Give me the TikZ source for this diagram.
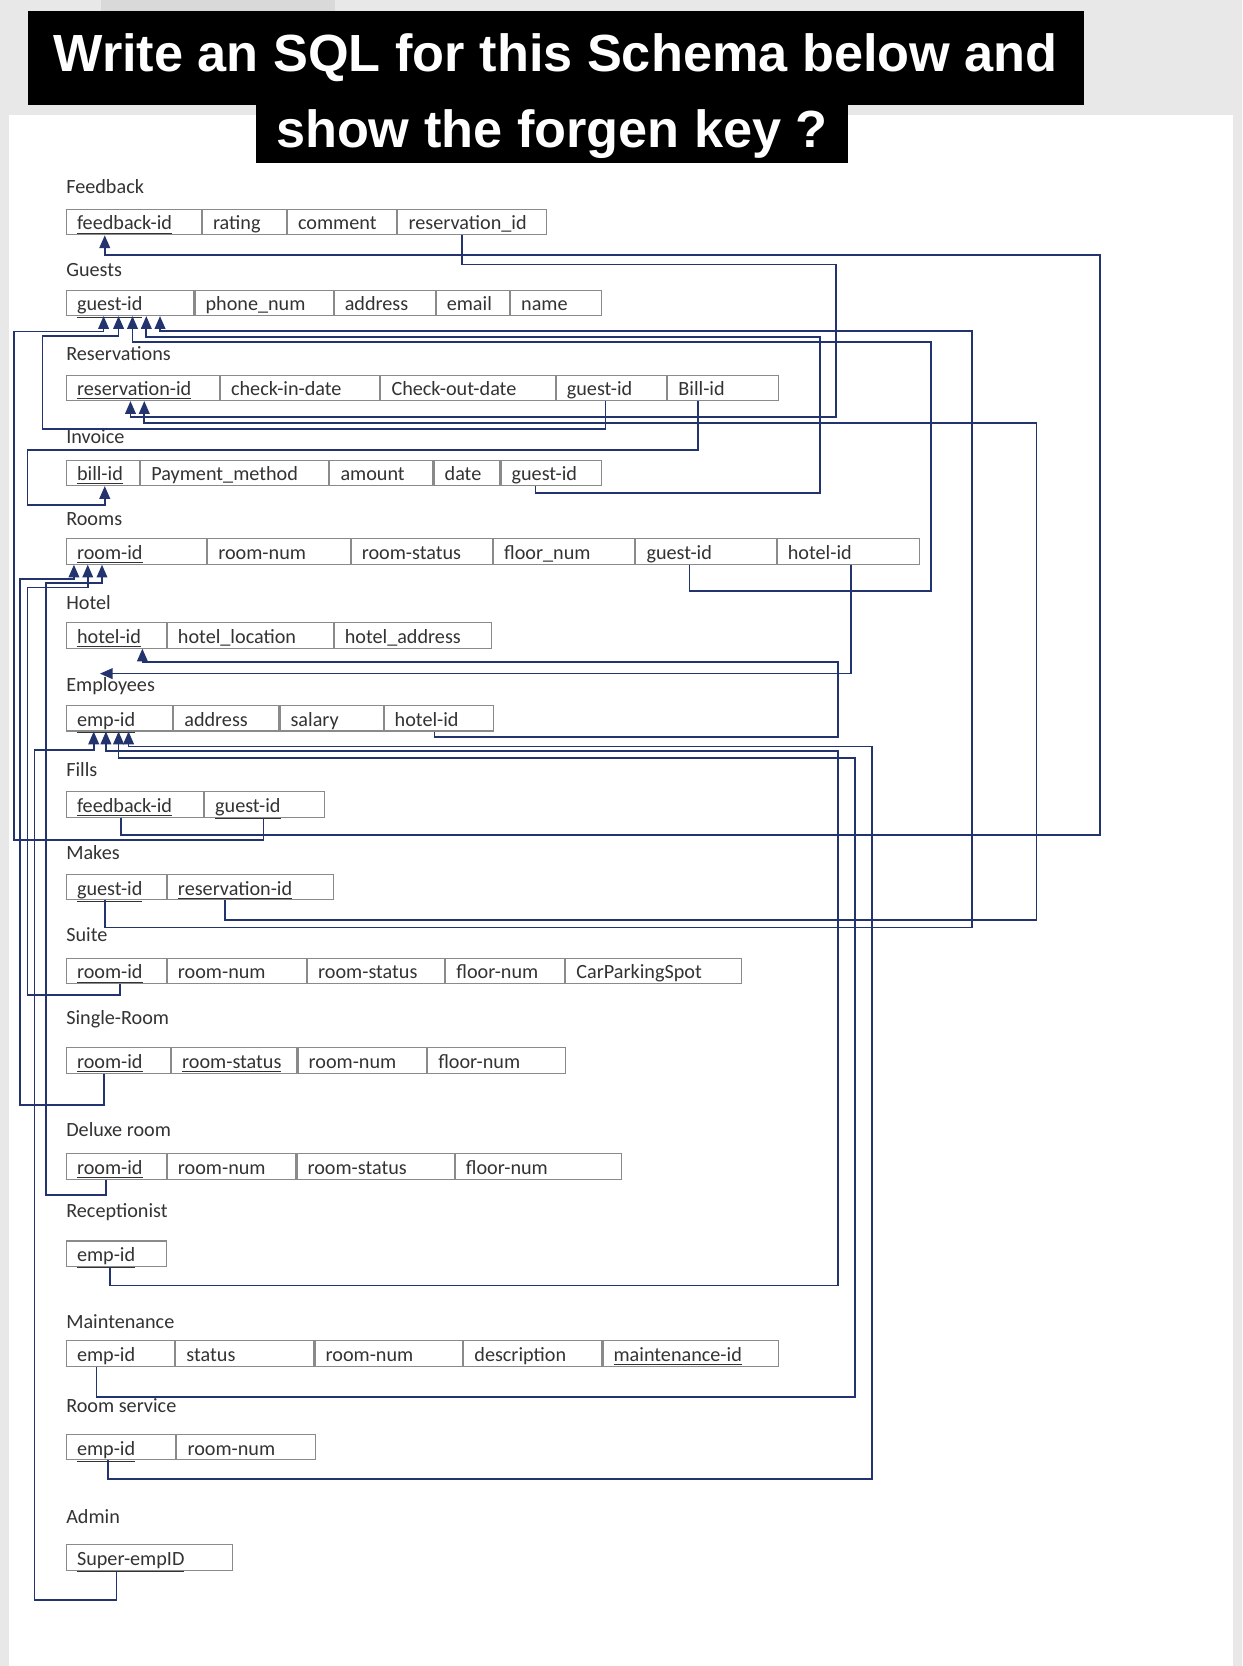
\documentclass[tikz,border=0pt]{standalone}
\usepackage{fontspec}
\setmainfont{Carlito}
\newfontfamily\titlefont{Liberation Sans}
\usetikzlibrary{arrows.meta, calc, positioning}

\definecolor{fknavy}{HTML}{22336E}
\definecolor{cellgray}{HTML}{8A8A8A}
\definecolor{txtgray}{HTML}{333333}

\tikzset{
  cell/.style={draw=cellgray, line width=0.5pt, rectangle, minimum height=12pt,
    inner ysep=0pt, inner xsep=5pt, align=left, text height=8.2pt, text depth=0.8pt,
    font=\fontsize{9.5}{10}\selectfont, text=txtgray},
  tbl/.style={anchor=west, inner sep=0pt, font=\fontsize{9.5}{10}\selectfont, text=txtgray},
  fk/.style={draw=fknavy, line width=0.8pt},
  fkarrow/.style={fk, -{Stealth[length=6pt,width=5pt,inset=0pt]}},
  title/.style={fill=black, text=white, inner sep=0pt, font=\titlefont\bfseries\fontsize{24.6}{28}\selectfont}
}

% one table row: prefix, centre y, list of x-left/x-right/text
\newcommand\schemarow[3]{%
  \foreach \xa/\xb/\txt [count=\i] in {#3} {
    \pgfmathsetmacro\tw{(\xb-\xa)*0.5-10.5}
    \node[cell, text width=\tw pt] (#1-\i) at ({(\xa+\xb)/2},#2) {\txt};
  }%
}

\begin{document}
\begin{tikzpicture}[x=0.5pt, y=-0.5pt]
\useasboundingbox (0,0) rectangle (1169,1568);
\fill[gray!18] (0,0) rectangle (1169,1568);
\fill[gray!30] (95,0) rectangle (315,12);
\fill[white] (8,108) rectangle (1160,1568);

% titles
\node[title, minimum width=497pt, minimum height=44.2pt] (q1) at (523,54.6) {Write an SQL for this Schema below and};
\node[title, minimum width=278.5pt, minimum height=27.5pt] (q2) at (519.5,126.3) {show the forgen key ?};

% tables
\node[tbl] (lfb) at (62,176) {Feedback};
\schemarow{fb}{209}{62/190/\underline{feedback-id}, 190/270/rating, 270/374/comment, 374/515/reservation\_id}
\node[tbl] (lgs) at (62,254) {Guests};
\schemarow{gs}{285}{62/183/\underline{guest-id}, 183/314/phone\_num, 314/410/address, 410/480/email, 480/567/name}
\node[tbl] (lrs) at (62,333) {Reservations};
\schemarow{rs}{365}{62/207/\underline{reservation-id}, 207/358/check-in-date, 358/523/Check-out-date, 523/628/guest-id, 628/733/Bill-id}
\node[tbl] (linv) at (62,411) {Invoice};
\schemarow{inv}{445}{62/132/\underline{bill-id}, 132/310/Payment\_method, 310/408/amount, 408/471/date, 471/567/guest-id}
\node[tbl] (lrm) at (62,489) {Rooms};
\schemarow{rm}{519}{62/195/\underline{room-id}, 195/330/room-num, 330/464/room-status, 464/598/floor\_num, 598/731/guest-id, 731/866/hotel-id}
\node[tbl] (lht) at (62,567) {Hotel};
\schemarow{ht}{598}{62/157/\underline{hotel-id}, 157/314/hotel\_location, 314/463/hotel\_address}
\node[tbl] (lemp) at (62,646) {Employees};
\schemarow{emp}{676}{62/163/\underline{emp-id}, 163/263/address, 263/361/salary, 361/465/hotel-id}
\node[tbl] (lfil) at (62,724) {Fills};
\schemarow{fil}{757}{62/192/\underline{feedback-id}, 192/306/\underline{guest-id}}
\node[tbl] (lmk) at (62,802) {Makes};
\schemarow{mk}{835}{62/157/\underline{guest-id}, 157/314/\underline{reservation-id}}
\node[tbl] (lsu) at (62,880) {Suite};
\schemarow{su}{914}{62/157/\underline{room-id}, 157/289/room-num, 289/419/room-status, 419/532/floor-num, 532/698/CarParkingSpot}
\node[tbl] (lsr) at (62,959) {Single-Room};
\schemarow{sr}{998}{62/161/\underline{room-id}, 161/280/\underline{room-status}, 280/402/room-num, 402/533/floor-num}
\node[tbl] (ldx) at (62,1063) {Deluxe room};
\schemarow{dx}{1098}{62/157/\underline{room-id}, 157/279/room-num, 279/428/room-status, 428/585/floor-num}
\node[tbl] (lrc) at (62,1141) {Receptionist};
\schemarow{rc}{1180}{62/157/\underline{emp-id}}
\node[tbl] (lmt) at (62,1244) {Maintenance};
\schemarow{mt}{1274}{62/165/emp-id, 165/296/status, 296/436/room-num, 436/567/description, 567/733/\underline{maintenance-id}}
\node[tbl] (lrsv) at (62,1323) {Room service};
\schemarow{rsv}{1362}{62/166/\underline{emp-id}, 166/297/room-num}
\node[tbl] (ladm) at (62,1427) {Admin};
\schemarow{adm}{1466}{62/219/\underline{Super-empID}}

% foreign keys
\draw[fkarrow] ($(fil-1.south west)+(52,0)$) |- (1035,786) |- (98.6,240) -- ($(fb-1.south west)+(36.6,0)$);
\draw[fkarrow] ($(fil-2.south west)+(56,0)$) |- (13,790.5) |- (97.5,312) -- ($(gs-1.south west)+(35.5,0)$);
\draw[fkarrow] ($(fb-4.south west)+(61,0)$) |- (787,249) |- (122.8,392.6) -- ($(rs-1.south west)+(60.8,0)$);
\draw[fkarrow] ($(mk-2.south west)+(55,0)$) |- (975.5,866) |- (135.8,397.8) -- ($(rs-1.south west)+(73.8,0)$);
\draw[fkarrow] ($(mk-1.south west)+(36.6,0)$) |- (915,873) |- (150.6,311.6) -- ($(gs-1.south west)+(88.6,0)$);
\draw[fkarrow] ($(rs-4.south west)+(47,0)$) |- (40,404) |- (111.6,316) -- ($(gs-1.south west)+(49.6,0)$);
\draw[fkarrow] ($(rm-5.south west)+(51,0)$) |- (876,556) |- (124.7,321.6) -- ($(gs-1.south west)+(62.7,0)$);
\draw[fkarrow] ($(inv-5.south west)+(33,0)$) |- (772,463.7) |- (137.7,317.5) -- ($(gs-1.south west)+(75.7,0)$);
\draw[fkarrow] ($(rs-5.south west)+(29,0)$) |- (26,423.5) |- (98.6,475) -- ($(inv-1.south west)+(36.6,0)$);
\draw[fkarrow] ($(sr-1.south west)+(35.9,0)$) |- (18.6,1040) |- (69.6,545) -- ($(rm-1.south west)+(7.6,0)$);
\draw[fkarrow] ($(su-1.south west)+(50.8,0)$) |- (26,936.5) |- (82.6,553) -- ($(rm-1.south west)+(20.6,0)$);
\draw[fkarrow] ($(dx-1.south west)+(37.7,0)$) |- (43.5,1124.7) |- (96,549) -- ($(rm-1.south west)+(34,0)$);
\draw[fkarrow] ($(emp-4.south west)+(48,0)$) |- (789,693.5) |- (134,623) -- ($(ht-1.south west)+(72,0)$);
\coordinate (htstub) at (94,634);
\draw[fkarrow] ($(rm-6.south west)+(70,0)$) |- (htstub);
\draw[fkarrow] ($(rc-1.south west)+(41.5,0)$) |- (789,1210) |- (99.7,707) -- ($(emp-1.south west)+(37.7,0)$);
\draw[fkarrow] ($(mt-1.south west)+(28.7,0)$) |- (805,1314.5) |- (111.6,713.6) -- ($(emp-1.south west)+(49.6,0)$);
\draw[fkarrow] ($(rsv-1.south west)+(39.5,0)$) |- (821,1392) |- (121,702.7) -- ($(emp-1.south west)+(59,0)$);
\draw[fkarrow] ($(adm-1.south west)+(47.7,0)$) |- (32.4,1506) |- (88.2,706) -- ($(emp-1.south west)+(26.2,0)$);
\end{tikzpicture}
\end{document}
